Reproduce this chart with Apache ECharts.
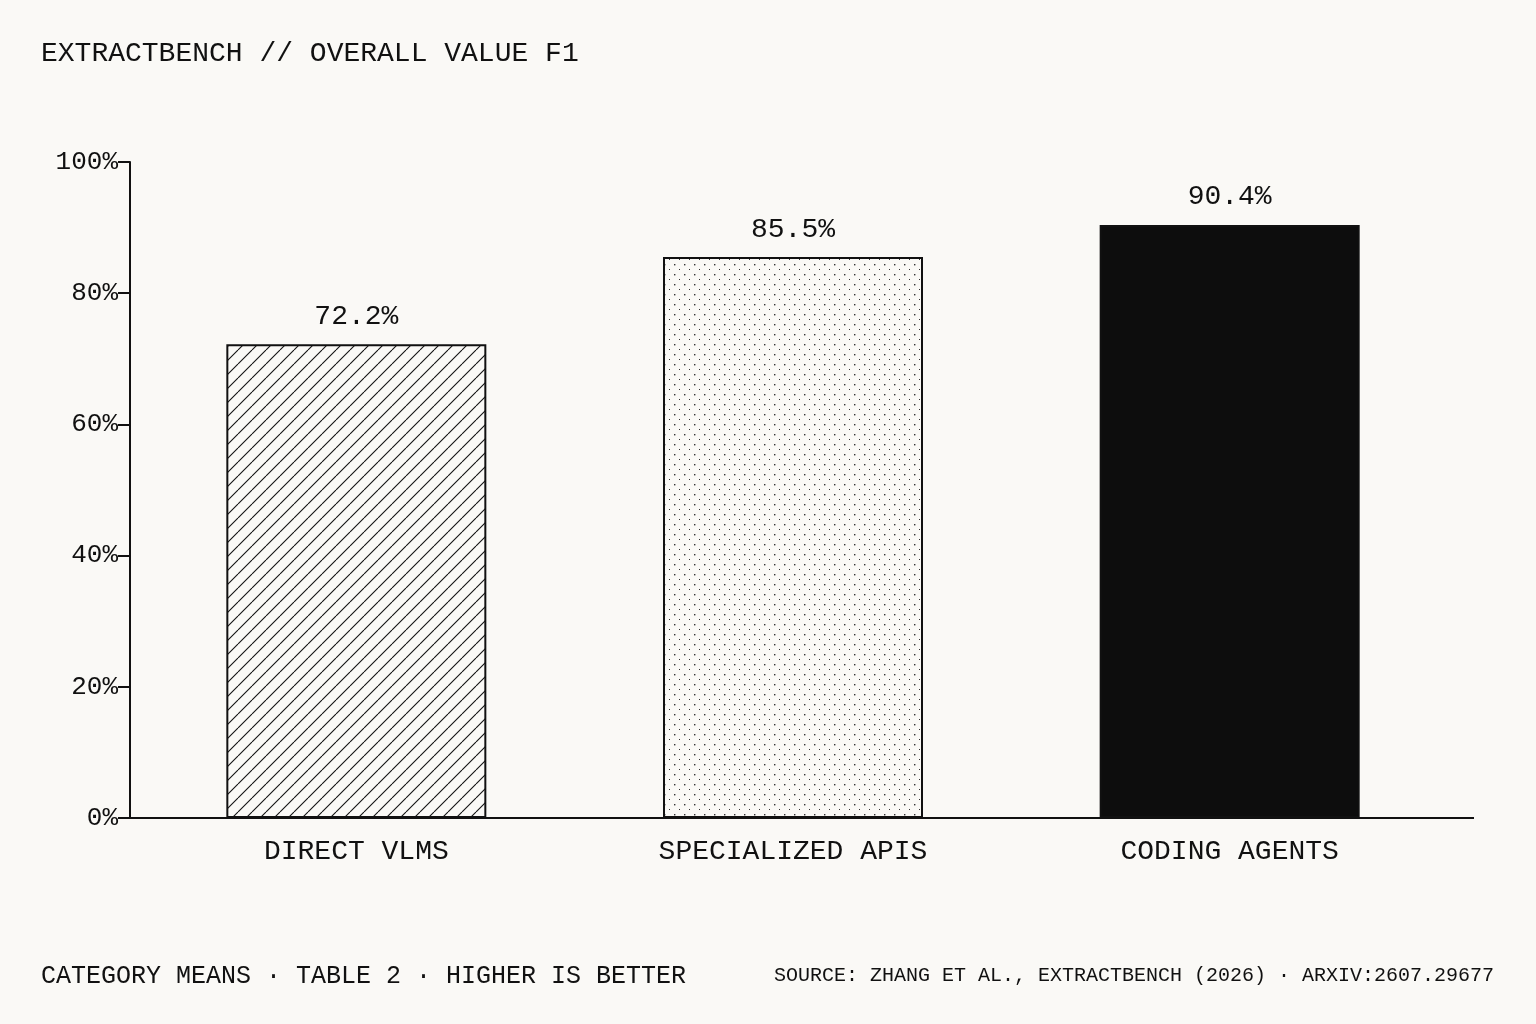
<!DOCTYPE html><html><head><meta charset="utf-8">
<script src="https://cdn.jsdelivr.net/npm/echarts@6/dist/echarts.min.js"></script>
<style>html,body{margin:0;background:#faf9f6}#c{width:1536px;height:1024px}</style></head><body><div id="c"></div>
<script>
const categories=["DIRECT VLMS","SPECIALIZED APIS","CODING AGENTS"];
const values=[72.2,85.5,90.4];
const yTicks=[0,20,40,60,80,100];
function hatch(){const c=document.createElement('canvas');c.width=c.height=14;const g=c.getContext('2d');g.fillStyle='#faf9f6';g.fillRect(0,0,14,14);g.strokeStyle='#111';g.lineWidth=1.1;
for(const o of[-14,0,14]){g.beginPath();g.moveTo(o,14);g.lineTo(o+14,0);g.stroke();}return c;}
function dots(){const c=document.createElement('canvas');c.width=c.height=10;const g=c.getContext('2d');g.fillStyle='#faf9f6';g.fillRect(0,0,10,10);g.fillStyle='#333';g.fillRect(4,4,1.4,1.4);g.fillRect(9,9,1.4,1.4);return c;}
const fills=[{image:hatch(),repeat:'repeat'},{image:dots(),repeat:'repeat'},'#0d0d0d'];
const font='"Liberation Mono","DejaVu Sans Mono",monospace';
const ch=echarts.init(document.getElementById('c'));
ch.setOption({backgroundColor:'#faf9f6',animation:false,
title:[{text:'EXTRACTBENCH // OVERALL VALUE F1',left:36,top:35,textStyle:{fontFamily:font,fontSize:28,fontWeight:'normal',color:'#111'}},
{text:'CATEGORY MEANS · TABLE 2 · HIGHER IS BETTER',left:36,top:959,textStyle:{fontFamily:font,fontSize:25,fontWeight:'normal',color:'#111'}},
{text:'SOURCE: ZHANG ET AL., EXTRACTBENCH (2026) · ARXIV:2607.29677',right:37,top:961,textStyle:{fontFamily:font,fontSize:20,fontWeight:'normal',color:'#111'}}],
grid:{left:138,right:88,top:162,bottom:206},
xAxis:{type:'category',data:categories,axisLine:{show:false},axisTick:{show:false},
axisLabel:{fontFamily:font,fontSize:28,color:'#111',margin:20}},
yAxis:{type:'value',min:0,max:100,interval:20,offset:8,axisLine:{show:true,lineStyle:{color:'#111',width:2}},axisTick:{show:true,length:12,lineStyle:{color:'#111',width:2}},splitLine:{show:false},
axisLabel:{fontFamily:font,fontSize:26,color:'#111',margin:12,formatter:v=>yTicks.includes(v)?v+'%':''}},
graphic:[{type:'line',shape:{x1:118,y1:818,x2:1474,y2:818},style:{stroke:'#111',lineWidth:2},z:100}],
series:[{type:'bar',barWidth:260,data:values.map((v,i)=>({value:v,itemStyle:{color:fills[i],borderColor:'#111',borderWidth:2}})),
label:{show:true,position:'top',distance:14,fontFamily:font,fontSize:28,color:'#111',formatter:p=>p.value.toFixed(1)+'%'}}]});
</script></body></html>
